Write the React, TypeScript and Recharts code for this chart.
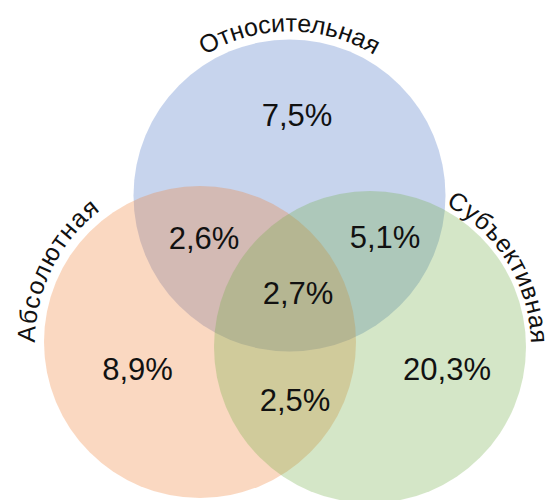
import React from 'react';
import { ScatterChart, Scatter, XAxis, YAxis } from 'recharts';

// sets of the diagram (drawn in this order: blue under, green on top)
const setNames = ['Относительная', 'Абсолютная', 'Субъективная'];
const setColors = ['#4472C4', '#ED7D31', '#70AD47'];

// regions: share of answers
const regionKeys = ['О', 'А', 'С', 'О+А', 'О+С', 'О+А+С', 'А+С'];
const regionValues = [7.5, 8.9, 20.3, 2.6, 5.1, 2.7, 2.5];

// layout (chart units = pixels of the 549x500 plot)
const W = 549;
const H = 500;
const circleX = [289.5, 200, 370];
const circleY = [195.5, 342, 347];
const circleR = 156;
const nameAngle = [-90, -153.5, -31.5];
const nameGap = [8, 9, 5];
const nameSpacing = [0, 1.2, 0.5];
const regionX = [297, 137.5, 447, 204, 385, 298, 295];
const regionY = [126, 380, 380, 249, 248, 304, 411];

const FONT = "Arial, 'Liberation Sans', sans-serif";

const circles = setNames.map((name, i) => ({
  name,
  x: circleX[i],
  y: circleY[i],
  color: setColors[i],
  angle: nameAngle[i],
  gap: nameGap[i],
  spacing: nameSpacing[i],
  idx: i,
}));

const regions = regionKeys.map((key, i) => ({
  key,
  x: regionX[i],
  y: regionY[i],
  label: regionValues[i].toFixed(1).replace('.', ',') + '%',
}));

const CircleShape = (props: any) => {
  const { cx, cy, payload } = props;
  const r = circleR; // 1 unit = 1 px
  const R = r + payload.gap;
  const a0 = ((payload.angle - 180) * Math.PI) / 180;
  const sx = cx + R * Math.cos(a0);
  const sy = cy + R * Math.sin(a0);
  const ex = cx - R * Math.cos(a0);
  const ey = cy - R * Math.sin(a0);
  const id = `arc-${payload.idx}`;
  const d = `M ${sx} ${sy} A ${R} ${R} 0 1 1 ${ex} ${ey} A ${R} ${R} 0 1 1 ${sx} ${sy}`;
  return (
    <g>
      <circle cx={cx} cy={cy} r={r} fill={payload.color} fillOpacity={0.3} />
      <path id={id} d={d} fill="none" stroke="none" />
      <text fontFamily={FONT} fontSize={25} fill="#111" letterSpacing={payload.spacing}>
        <textPath href={`#${id}`} startOffset="50%" textAnchor="middle">
          {payload.name}
        </textPath>
      </text>
    </g>
  );
};

const RegionLabel = (props: any) => {
  const { cx, cy, payload } = props;
  return (
    <text x={cx} y={cy} textAnchor="middle" fontFamily={FONT} fontSize={31} fill="#111">
      {payload.label}
    </text>
  );
};

export default function App() {
  return (
    <div style={{ position: 'absolute', left: 0, top: 0, background: '#fff' }}>
      <ScatterChart width={W} height={H} margin={{ top: 0, right: 0, bottom: 0, left: 0 }}>
        <XAxis type="number" dataKey="x" domain={[0, W]} hide />
        <YAxis type="number" dataKey="y" domain={[0, H]} reversed hide />
        <Scatter data={circles} shape={<CircleShape />} isAnimationActive={false} />
        <Scatter data={regions} shape={<RegionLabel />} isAnimationActive={false} />
      </ScatterChart>
    </div>
  );
}
